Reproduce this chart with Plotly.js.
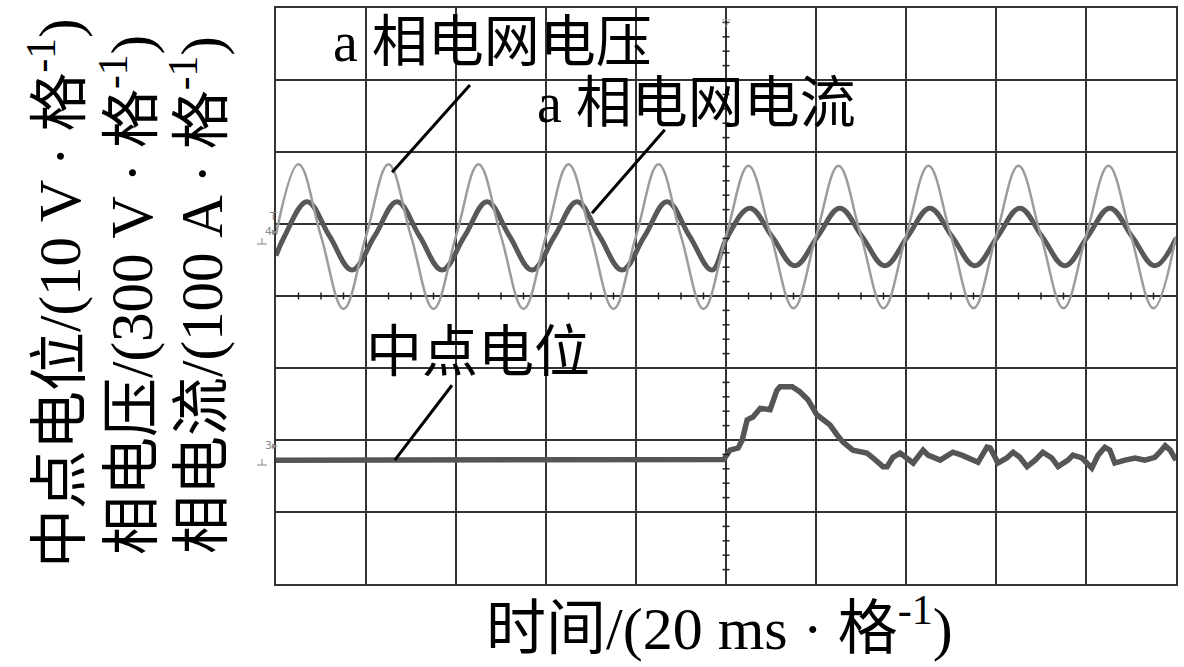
<!DOCTYPE html>
<html>
<head>
<meta charset="utf-8">
<script src="https://cdn.plot.ly/plotly-3.0.1.min.js"></script>
<style>
  html, body { margin: 0; padding: 0; background: #fff; }
  #chart { width: 1184px; height: 667px; }
</style>
</head>
<body>
<div id="chart"></div>
<script>
// ---- Data (time in ms, values in screen divisions) ----
const voltTime = [0,5,10,15,20,25,30,35,40,45,50,55,60,65,70,75,80,85,90,95,
                  100,105,110,115,120,125,130,135,140,145,150,155,160,165,170,175,180,185,190,195,200];
const voltVal  = [0.85,1.83,0.83,-0.18,0.83,1.83,0.83,-0.18,0.83,1.83,0.83,-0.18,0.83,1.83,0.83,-0.18,0.83,1.83,0.83,-0.18,
                  0.83,1.81,0.83,-0.17,0.83,1.81,0.83,-0.17,0.83,1.81,0.83,-0.17,0.83,1.81,0.83,-0.17,0.83,1.81,0.83,-0.17,0.83];

const currTime = [0,1.9,6.9,11.9,16.9,21.9,26.9,31.9,36.9,41.9,46.9,51.9,56.9,61.9,66.9,71.9,76.9,81.9,86.9,91.9,96.9,
                  100.3,105.3,110.3,115.3,120.3,125.3,130.3,135.3,140.3,145.3,150.3,155.3,160.3,165.3,170.3,175.3,180.3,185.3,190.3,195.3,200];
const currVal  = [0.56,0.83,1.31,0.83,0.36,0.83,1.31,0.83,0.36,0.83,1.31,0.83,0.36,0.83,1.31,0.83,0.36,0.83,1.31,0.83,0.36,
                  0.82,1.22,0.82,0.42,0.82,1.22,0.82,0.42,0.82,1.22,0.82,0.42,0.82,1.22,0.82,0.42,0.82,1.22,0.82,0.42,0.80];

const npTime = [0,25,50,75,99.5,100.9,102.7,103.6,104.7,106.0,107.6,109.8,111.3,112.0,114.7,116.4,118.2,120.2,120.9,123.1,124.7,126.0,
                128.2,131.3,132.7,134.9,135.8,137.1,138.7,140.2,141.6,143.8,144.9,147.6,150.4,152.4,154.2,156.0,158.0,158.7,159.8,160.4,
                162.4,163.8,165.3,166.9,168.7,170.4,172.4,173.8,176.0,177.1,179.1,180.2,181.3,182.7,184.2,185.3,186.4,188.7,190.9,193.1,
                195.3,196.4,197.6,198.7,200];
const npVal  = [-2.28,-2.28,-2.28,-2.28,-2.27,-2.14,-2.11,-2.00,-1.72,-1.68,-1.56,-1.58,-1.31,-1.26,-1.26,-1.33,-1.44,-1.65,-1.69,-1.79,-1.93,-2.03,
                -2.14,-2.18,-2.25,-2.37,-2.37,-2.24,-2.18,-2.25,-2.32,-2.14,-2.21,-2.28,-2.17,-2.21,-2.25,-2.31,-2.10,-2.11,-2.24,-2.32,
                -2.25,-2.17,-2.24,-2.37,-2.28,-2.17,-2.25,-2.37,-2.28,-2.21,-2.25,-2.31,-2.39,-2.21,-2.10,-2.14,-2.32,-2.28,-2.25,-2.28,
                -2.24,-2.17,-2.08,-2.14,-2.28];

const labelVoltage = 'a 相电网电压';
const labelCurrent = 'a 相电网电流';
const labelNP = '中点电位';
const xTitle = '时间/(20 ms · 格<sup>-1</sup>)';
const yTitles = ['中点电位/(10 V · 格<sup>-1</sup>)', '相电压/(300 V · 格<sup>-1</sup>)', '相电流/(100 A · 格<sup>-1</sup>)'];

// ---- Chart ----
const FONT = '"Liberation Serif", "Times New Roman", "Noto Sans CJK SC", serif';
const X0 = 276, X1 = 1176, Y0 = 8, Y1 = 584;
const px = p => (p - X0) / (X1 - X0);
const py = p => (Y1 - p) / (Y1 - Y0);

const traces = [
  { x: currTime, y: currVal, type: 'scatter', mode: 'lines', name: labelCurrent,
    line: { color: '#585858', width: 5, shape: 'spline', smoothing: 1.1 }, hoverinfo: 'skip' },
  { x: voltTime, y: voltVal, type: 'scatter', mode: 'lines', name: labelVoltage,
    line: { color: '#9c9c9c', width: 2.5, shape: 'spline', smoothing: 1.1 }, hoverinfo: 'skip' },
  { x: npTime, y: npVal, type: 'scatter', mode: 'lines', name: labelNP,
    line: { color: '#555555', width: 5.5, shape: 'linear' }, hoverinfo: 'skip' }
];

const shapes = [];
// minor ticks on the centre cross (oscilloscope graticule)
for (let t = 5; t < 200; t += 5) {
  if (t % 20 === 0) continue;
  shapes.push({ type: 'line', xref: 'x', yref: 'y', x0: t, x1: t, ysizemode: 'pixel', yanchor: 0, y0: -3.5, y1: 3.5,
                line: { color: '#222', width: 1.5 } });
}
for (let k = -19; k <= 19; k++) {
  if (k % 5 === 0) continue;
  shapes.push({ type: 'line', xref: 'x', yref: 'y', y0: k * 0.2, y1: k * 0.2, xsizemode: 'pixel', xanchor: 100, x0: -3.5, x1: 3.5,
                line: { color: '#222', width: 1.5 } });
}
// leader lines for labels
const leaders = [
  [43.1, 2.93, 25.8, 1.72],
  [86.4, 2.31, 70.2, 1.15],
  [39.1, -1.24, 26.4, -2.28]
];
leaders.forEach(l => shapes.push({ type: 'line', xref: 'x', yref: 'y', x0: l[0], y0: l[1], x1: l[2], y1: l[3],
                                   line: { color: '#000', width: 3 } }));
// small channel-ground symbols (oscilloscope markers)
[[244], [465]].forEach(g => {
  shapes.push({ type: 'line', xref: 'paper', yref: 'paper', x0: px(257), x1: px(267), y0: py(g[0]), y1: py(g[0]),
                line: { color: '#999', width: 1.2 } });
  shapes.push({ type: 'line', xref: 'paper', yref: 'paper', x0: px(262), x1: px(262), y0: py(g[0] - 6), y1: py(g[0]),
                line: { color: '#999', width: 1.2 } });
});

const annotations = [
  { text: labelVoltage, x: px(492), y: py(42), size: 56 },
  { text: labelCurrent, x: px(696), y: py(103), size: 56 },
  { text: labelNP, x: px(478), y: py(352), size: 56 },
  { text: xTitle, x: px(719), y: py(624), size: 60 }
].map(a => ({ text: a.text, x: a.x, y: a.y, xref: 'paper', yref: 'paper', showarrow: false,
              xanchor: 'center', yanchor: 'middle', font: { family: FONT, size: a.size, color: '#000' } }));

[55, 127, 197].forEach((cx, i) => annotations.push({
  text: yTitles[i], xref: 'paper', yref: 'paper', x: px(cx), y: py(i === 0 ? 293 : 295),
  textangle: -90, showarrow: false, xanchor: 'center', yanchor: 'middle',
  font: { family: FONT, size: 59, color: '#000' }
}));

// small oscilloscope channel markers
const markFont = { family: '"DejaVu Sans", sans-serif', size: 11, color: '#8a8a8a' };
annotations.push(
  { text: 'T', x: px(267), y: py(216), xref: 'paper', yref: 'paper', showarrow: false, font: markFont },
  { text: '4▸', x: px(263), y: py(232), xref: 'paper', yref: 'paper', showarrow: false, font: markFont },
  { text: '3▸', x: px(263), y: py(454), xref: 'paper', yref: 'paper', showarrow: false, font: markFont },
  { text: '▽', x: px(726), y: py(14), xref: 'paper', yref: 'paper', showarrow: false,
    font: { family: '"DejaVu Sans", sans-serif', size: 11, color: '#aaaaaa' } }
);

const axisCommon = {
  showgrid: true, gridcolor: '#333333', gridwidth: 1.5,
  showticklabels: false, ticks: '', zeroline: false,
  showline: true, mirror: true, linecolor: '#333333', linewidth: 2,
  fixedrange: true
};

const layout = {
  width: 1184, height: 667,
  margin: { l: X0, r: 1184 - X1, t: Y0, b: 667 - Y1, pad: 0 },
  paper_bgcolor: '#ffffff', plot_bgcolor: '#ffffff',
  showlegend: false,
  xaxis: Object.assign({ range: [0, 200], dtick: 20, tick0: 0 }, axisCommon),
  yaxis: Object.assign({ range: [-4, 4], dtick: 1, tick0: 0 }, axisCommon),
  shapes: shapes,
  annotations: annotations
};

Plotly.newPlot('chart', traces, layout, { staticPlot: true, displayModeBar: false });
</script>
</body>
</html>
